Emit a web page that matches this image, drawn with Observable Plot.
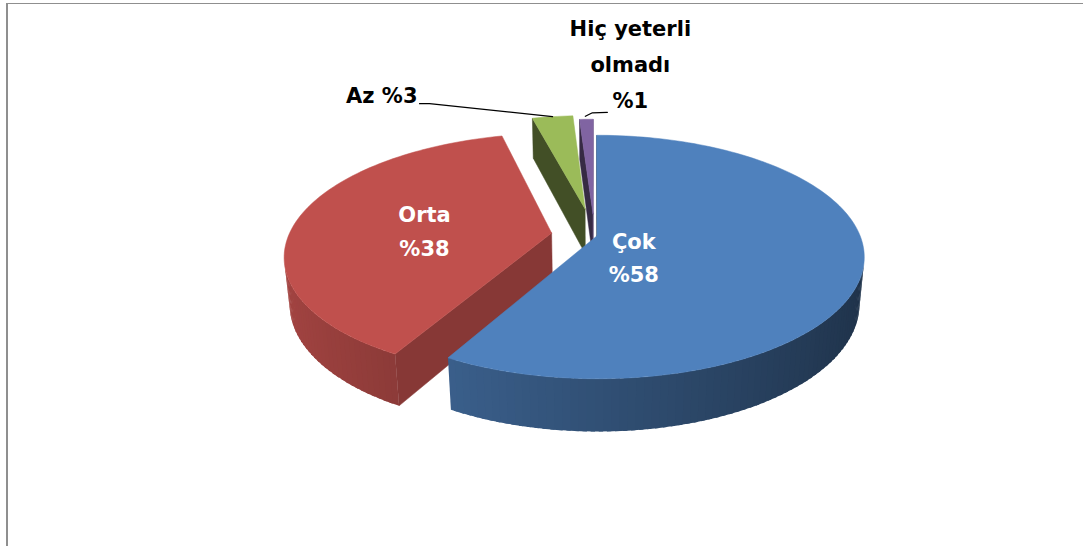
<!DOCTYPE html>
<html><head><meta charset="utf-8">
<script src="https://cdn.jsdelivr.net/npm/d3@7"></script>
<script src="https://cdn.jsdelivr.net/npm/@observablehq/plot@0.6"></script>
<style>
html,body{margin:0;padding:0;background:#fff;overflow:hidden;width:1083px;height:546px}
#chart{position:absolute;left:0;top:0}
#frame{position:absolute;left:6px;top:3px;width:2000px;height:2000px;border-left:2px solid #8f8f8f;border-top:1px solid #8f8f8f;z-index:5;pointer-events:none}
</style></head><body>
<div id="chart"></div><div id="frame"></div>
<script>
// ---- data ----
const categories = ["Çok", "Orta", "Az", "Hiç yeterli olmadı"];
const values = [58, 38, 3, 1];
const valuePrefix = "%";

// ---- style / layout config ----
const palette = ["#4F81BD", "#C0504D", "#9BBB59", "#8064A2"];
const W = 1083, H = 546;
const view = { cx: 594, cy: 235, f: 1350, D: 5.134, tilt: 26.65, thick: 0.2 };
const explode = [0.01, 0.165, 0.237, 0.19];
const labelCfg = [
  { mode: "inside", r: 0.155, dx: -3, dy: 15, lh: 33 / 21 },
  { mode: "inside", r: 0.5, dx: 1, dy: 2, lh: 35 / 21 },
  { mode: "outside", anchor: "end", dx: -135, dy: -20, lh: 1, leader: [[0, 0], [-123, -13], [-133, -13]], oneLine: true },
  { mode: "outside", anchor: "middle", dx: 44, dy: -59, lh: 36 / 21, leader: [[-1, -3], [6, -6.5], [21, -7]] }
];
const font = { family: "DejaVu Sans", size: 21 };

// ---- geometry ----
const deg = Math.PI / 180;
const cosT = Math.cos(view.tilt * deg), sinT = Math.sin(view.tilt * deg);
const camPos = [0, view.D * sinT, -view.D * cosT];
function proj(X, Y, Z) {
  const u = Y * cosT + Z * sinT, w = view.D + Z * cosT - Y * sinT;
  return { x: X / w, y: u / w };
}
function shade(hex, k) { const c = d3.rgb(hex); return d3.rgb(c.r * k, c.g * k, c.b * k).formatHex(); }
function visible(n, p) { return n[0] * (camPos[0] - p[0]) + n[1] * (camPos[1] - p[1]) + n[2] * (camPos[2] - p[2]) > 0; }

const total = d3.sum(values);
let acc = 0;
const slices = values.map((v, i) => {
  const a0 = acc / total * 360; acc += v; const a1 = acc / total * 360;
  const m = (a0 + a1) / 2;
  return { i, name: categories[i], value: v, a0, a1, m,
    ox: explode[i] * Math.sin(m * deg), oz: explode[i] * Math.cos(m * deg), color: palette[i] };
});

const polys = [];
let pid = 0;
function addPoly(pts3, fill, stroke) {
  const id = pid++;
  [...pts3, pts3[0]].forEach(p => { const q = proj(...p); polys.push({ id, x: q.x, y: q.y, fill, stroke }); });
}

const order = slices.slice().sort((a, b) => b.oz - a.oz);
for (const s of order) {
  const t = view.thick;
  const span = s.a1 - s.a0;
  const steps = Math.max(2, Math.ceil(span / 1.5));
  const arc = d3.range(steps + 1).map(k => s.a0 + span * k / steps);
  const pt = (th, y) => [s.ox + Math.sin(th * deg), y, s.oz + Math.cos(th * deg)];
  const apexT = [s.ox, 0, s.oz], apexB = [s.ox, -t, s.oz];
  const n0 = [-Math.cos(s.a0 * deg), 0, Math.sin(s.a0 * deg)];
  const n1 = [Math.cos(s.a1 * deg), 0, -Math.sin(s.a1 * deg)];
  [[s.a0, n0], [s.a1, n1]].forEach(([a, n]) => {
    const mid = [s.ox + 0.5 * Math.sin(a * deg), -t / 2, s.oz + 0.5 * Math.cos(a * deg)];
    if (visible(n, mid)) { const c = shade(s.color, 0.57 + 0.15 * n[0]); addPoly([apexT, pt(a, 0), pt(a, -t), apexB], c, c); }
  });
  const ov = Math.min(0.8, span / steps * 0.6);
  for (let k = 0; k < steps; k++) {
    const th = (arc[k] + arc[k + 1]) / 2;
    const n = [Math.sin(th * deg), 0, Math.cos(th * deg)];
    const b = Math.min(arc[k + 1] + ov, s.a1);
    if (visible(n, pt(th, -t / 2)))
      addPoly([pt(arc[k], 0), pt(b, 0), pt(b, -t), pt(arc[k], -t)],
        shade(s.color, 0.62 - 0.235 * Math.sin(th * deg)), "none");
  }
  addPoly([apexT, ...arc.map(a => pt(a, 0))], s.color, s.color);
}

// ---- labels ----
function wrap(name) { if (name.length <= 10) return name; const j = name.lastIndexOf(" "); return name.slice(0, j) + "\n" + name.slice(j + 1); }
const px = v => v / view.f;
const texts = [], leaders = [];
slices.forEach((s, i) => {
  const c = labelCfg[i];
  if (c.mode === "inside") {
    const q = proj(s.ox + c.r * Math.sin(s.m * deg), 0, s.oz + c.r * Math.cos(s.m * deg));
    texts.push({ x: q.x + px(c.dx), y: q.y - px(c.dy), text: s.name + "\n" + valuePrefix + s.value, fill: "white", anchor: "middle", lh: c.lh });
  } else {
    const q = proj(s.ox + Math.sin(s.m * deg), 0, s.oz + Math.cos(s.m * deg));
    const txt = c.oneLine ? s.name + " " + valuePrefix + s.value : wrap(s.name) + "\n" + valuePrefix + s.value;
    texts.push({ x: q.x + px(c.dx), y: q.y - px(c.dy), text: txt, fill: "black", anchor: c.anchor, lh: c.lh });
    c.leader.forEach(([dx, dy]) => leaders.push({ id: i, x: q.x + px(dx), y: q.y - px(dy) }));
  }
});

const marks = [
  Plot.line(polys, { x: "x", y: "y", z: "id", fill: "fill", stroke: "stroke", strokeWidth: 0.5, curve: "linear" }),
  Plot.line(leaders, { x: "x", y: "y", z: "id", stroke: "black", strokeWidth: 1.3 }),
  ...texts.map(d => Plot.text([d], { x: "x", y: "y", text: "text", fill: d.fill, textAnchor: d.anchor,
    lineHeight: d.lh, fontSize: font.size, fontWeight: "bold", fontFamily: font.family }))
];

const chart = Plot.plot({
  width: W, height: H, margin: 0,
  x: { domain: [(0 - view.cx) / view.f, (W - view.cx) / view.f], range: [0, W], axis: null },
  y: { domain: [(view.cy - H) / view.f, view.cy / view.f], range: [H, 0], axis: null },
  color: { type: "identity" },
  style: { background: "transparent" },
  marks
});
document.getElementById("chart").appendChild(chart);
</script>
</body></html>
